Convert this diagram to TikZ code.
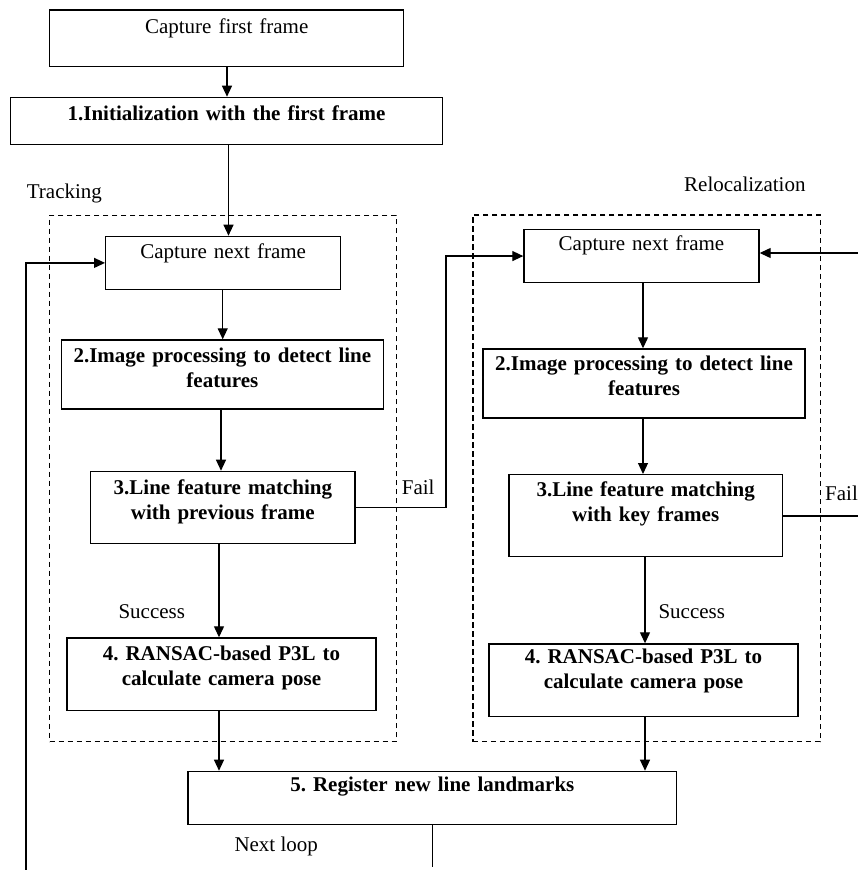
\documentclass[tikz,border=0pt]{standalone}
\usepackage{fontspec}
\setmainfont{Liberation Serif}
\usetikzlibrary{arrows.meta,calc}
\frenchspacing
\begin{document}
\begin{tikzpicture}[x=1pt,y=-1pt,
  font=\fontsize{21}{25}\selectfont\frenchspacing,
  box/.style={draw, line width=1.4pt, inner sep=0pt, anchor=north west},
  grp/.style={draw, line width=1.3pt, dash pattern=on 5.5pt off 3.5pt, inner sep=0pt, anchor=north west},
  txt/.style={inner sep=0pt, anchor=base, align=center, text width=#1},
  txt/.default=320pt,
  bold/.style={font=\fontsize{21}{25}\selectfont\frenchspacing\bfseries},
  lbl/.style={inner sep=0pt, anchor=base west},
  arr/.style={line width=1.2pt, -{Triangle[length=11pt,width=10pt]}},
  ln/.style={line width=1.2pt}]
\useasboundingbox (0,0) rectangle (858,870);

% group frames
\node[grp, minimum width=346.7pt, minimum height=526.3pt] (gT) at (49,214.7) {};
\node[grp, minimum width=347.4pt, minimum height=526.7pt] (gR) at (472.3,214.3) {};

% top
\node[box, minimum width=354pt, minimum height=56.4pt] (cff) at (49,9.3) {};
\node[txt] (cffT) at ($(cff.north)+(0,24)$) {Capture first frame};
\node[box, minimum width=431.7pt, minimum height=47.3pt] (init) at (10,96.7) {};
\node[txt=425pt, bold] (initT) at ($(init.north)+(0,23.3)$) {1.Initialization with the first frame};

% tracking
\node[box, minimum width=235pt, minimum height=53pt] (tcap) at (105,235.7) {};
\node[txt=230pt] (tcapT) at ($(tcap.north)+(0,22.3)$) {Capture next frame};
\node[box, minimum width=322pt, minimum height=69pt] (timg) at (60.7,339.3) {};
\node[txt=318pt, bold] (timgT) at ($(timg.north)+(0,22.7)$) {2.Image processing to detect line\\features};
\node[box, minimum width=264.3pt, minimum height=72.3pt] (tmatch) at (90,470.7) {};
\node[txt=260pt, bold] (tmatchT) at ($(tmatch.north)+(0,23.3)$) {3.Line feature matching\\with previous frame};
\node[box, minimum width=309pt, minimum height=72.7pt] (tpose) at (66.3,637.3) {};
\node[txt=305pt, bold] (tposeT) at ($(tpose.north)+(0,22.7)$) {4. RANSAC-based P3L to\\calculate camera pose};

% relocalization
\node[box, minimum width=235pt, minimum height=53.3pt] (rcap) at (523.3,228.7) {};
\node[txt=230pt] (rcapT) at ($(rcap.north)+(0,21.3)$) {Capture next frame};
\node[box, minimum width=322pt, minimum height=69pt] (rimg) at (482.3,348.3) {};
\node[txt=318pt, bold] (rimgT) at ($(rimg.north)+(0,21.7)$) {2.Image processing to detect line\\features};
\node[box, minimum width=273.4pt, minimum height=82pt] (rmatch) at (508.3,474) {};
\node[txt=268pt, bold] (rmatchT) at ($(rmatch.north)+(0,22.7)$) {3.Line feature matching\\with key frames};
\node[box, minimum width=309pt, minimum height=72.4pt] (rpose) at (488.3,643.3) {};
\node[txt=305pt, bold] (rposeT) at ($(rpose.north)+(0,20)$) {4. RANSAC-based P3L to\\calculate camera pose};

% register
\node[box, minimum width=488.7pt, minimum height=53.3pt] (reg) at (187.3,770.7) {};
\node[txt=480pt, bold] (regT) at ($(reg.north)+(0,21)$) {5. Register new line landmarks};

% labels
\node[lbl] (lTrack) at (26.7,198.3) {Tracking};
\node[lbl] (lReloc) at (684,191.7) {Relocalization};
\node[lbl] (lFailL) at (401.7,494) {Fail};
\node[lbl] (lFailR) at (825,500) {Fail};
\node[lbl] (lSuccL) at (118.3,618) {Success};
\node[lbl] (lSuccR) at (658.3,618) {Success};
\node[lbl] (lNext) at (234.3,851.7) {Next loop};

% x positions of vertical connectors
\coordinate (c227) at (227,0);
\coordinate (c228) at (228.5,0);
\coordinate (c223) at (222.7,0);
\coordinate (c221) at (221,0);
\coordinate (c219) at (219,0);
\coordinate (c643) at (643,0);
\coordinate (c645) at (645,0);
\coordinate (c432) at (432.3,0);

% free ends
\coordinate (fL) at (446,507.3);
\coordinate (rin) at (858,253);
\coordinate (rout) at (858,516);
\coordinate (bot) at (432.3,867);
\coordinate (lb) at (26,870);

% connectors
\draw[arr] (cff.south -| c227) -- (init.north -| c227);
\draw[arr] (init.south -| c228) -- (tcap.north -| c228);
\draw[arr] (tcap.south -| c223) -- (timg.north -| c223);
\draw[arr] (timg.south -| c221) -- (tmatch.north -| c221);
\draw[arr] (tmatch.south -| c219) -- (tpose.north -| c219);
\draw[arr] (tpose.south -| c219) -- (reg.north -| c219);

\draw[arr] (rcap.south -| c643) -- (rimg.north -| c643);
\draw[arr] (rimg.south -| c643) -- (rmatch.north -| c643);
\draw[arr] (rmatch.south -| c645) -- (rpose.north -| c645);
\draw[arr] (rpose.south -| c645) -- (reg.north -| c645);

\draw[arr] (tmatch.east |- fL) -- (fL) |- (rcap.west);
\draw[arr] (rin) -- (rcap.east |- rin);
\draw[ln] (rmatch.east |- rout) -- (rout);

\draw[ln] (reg.south -| c432) -- (bot);
\draw[arr] (lb) |- (tcap.west);
\end{tikzpicture}
\end{document}
